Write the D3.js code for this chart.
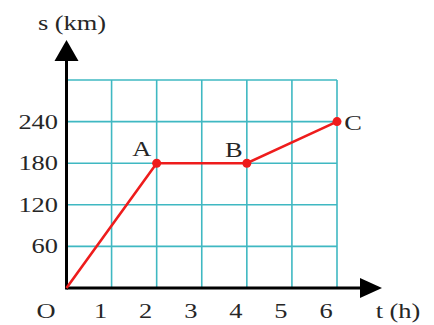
<!DOCTYPE html>
<html>
<head>
<meta charset="utf-8">
<script src="https://cdn.jsdelivr.net/npm/d3@7"></script>
<style>
  body { margin: 0; background: #fff; }
  text { font-family: "Liberation Serif", "Times New Roman", serif; fill: #262626; }
</style>
</head>
<body>
<div id="chart"></div>
<script>
// motion graph data
const times = [0, 2, 4, 6];
const distances = [0, 180, 180, 240];
const pointNames = ["", "A", "B", "C"];
const xTicks = [1, 2, 3, 4, 5, 6];
const yTicks = [60, 120, 180, 240];
const gridX = [1, 2, 3, 4, 5, 6];
const gridY = [60, 120, 180, 240, 300];

const width = 434, height = 325;
const fontSize = 22;
const stretch = 1.2; // the source text is a bit wide

const svg = d3.select("#chart").append("svg")
    .attr("width", width)
    .attr("height", height);

const x = d3.scaleLinear().domain([0, 6]).range([66.5, 337]);
const y = d3.scaleLinear().domain([0, 300]).range([288, 80]);

const gridColor = "#3fb8c2";

// place wide text at (px, py)
function wideText(sel, px, py) {
    return sel
        .attr("transform", (d, i) => `translate(${typeof px === "function" ? px(d, i) : px},${typeof py === "function" ? py(d, i) : py}) scale(${stretch},1)`)
        .style("font-size", fontSize + "px");
}

// Grid
svg.append("g").selectAll("line")
    .data(gridX)
    .enter().append("line")
    .attr("x1", d => x(d)).attr("x2", d => x(d))
    .attr("y1", y(0)).attr("y2", y(300))
    .attr("stroke", gridColor)
    .attr("stroke-width", 1.6);

svg.append("g").selectAll("line")
    .data(gridY)
    .enter().append("line")
    .attr("x1", x(0)).attr("x2", x(6))
    .attr("y1", d => y(d)).attr("y2", d => y(d))
    .attr("stroke", gridColor)
    .attr("stroke-width", 1.6);

// Axes with arrows
svg.append("line")
    .attr("x1", x(0)).attr("x2", 362)
    .attr("y1", y(0)).attr("y2", y(0))
    .attr("stroke", "#000").attr("stroke-width", 3);
svg.append("path")
    .attr("d", `M${382},${y(0)} L${360},${y(0) - 10} L${360},${y(0) + 10} Z`)
    .attr("fill", "#000");

svg.append("line")
    .attr("x1", x(0)).attr("x2", x(0))
    .attr("y1", y(0) + 1.5).attr("y2", 58)
    .attr("stroke", "#000").attr("stroke-width", 3);
svg.append("path")
    .attr("d", `M${x(0)},40 L${x(0) - 12},61 L${x(0) + 12},61 Z`)
    .attr("fill", "#000");

// Tick labels
svg.append("g").selectAll("text")
    .data(xTicks)
    .enter().append("text")
    .attr("text-anchor", "middle")
    .call(wideText, d => x(d) - 11, 318)
    .text(d => d);

svg.append("g").selectAll("text")
    .data(yTicks)
    .enter().append("text")
    .attr("text-anchor", "end")
    .call(wideText, 58, d => y(d) + 7)
    .text(d => d);

svg.append("text")
    .attr("text-anchor", "middle")
    .call(wideText, 46, 318)
    .text("O");

svg.append("text")
    .attr("text-anchor", "middle")
    .call(wideText, 398, 318)
    .text("t (h)");

svg.append("text")
    .attr("text-anchor", "middle")
    .call(wideText, 72, 30)
    .text("s (km)");

// Line
const pts = times.map((t, i) => ({ t, s: distances[i], name: pointNames[i] }));

svg.append("path")
    .datum(pts)
    .attr("fill", "none")
    .attr("stroke", "#ee1c1c")
    .attr("stroke-width", 2.6)
    .attr("d", d3.line().x(d => x(d.t)).y(d => y(d.s)));

svg.append("g").selectAll("circle")
    .data(pts.filter(d => d.name))
    .enter().append("circle")
    .attr("cx", d => x(d.t))
    .attr("cy", d => y(d.s))
    .attr("r", 4.5)
    .attr("fill", "#ee1c1c");

// Point labels
const labelOffset = { A: [-15, -7], B: [-13, -6], C: [16, 8] };
svg.append("g").selectAll("text")
    .data(pts.filter(d => d.name))
    .enter().append("text")
    .attr("text-anchor", "middle")
    .call(wideText, d => x(d.t) + labelOffset[d.name][0], d => y(d.s) + labelOffset[d.name][1])
    .text(d => d.name);
</script>
</body>
</html>
